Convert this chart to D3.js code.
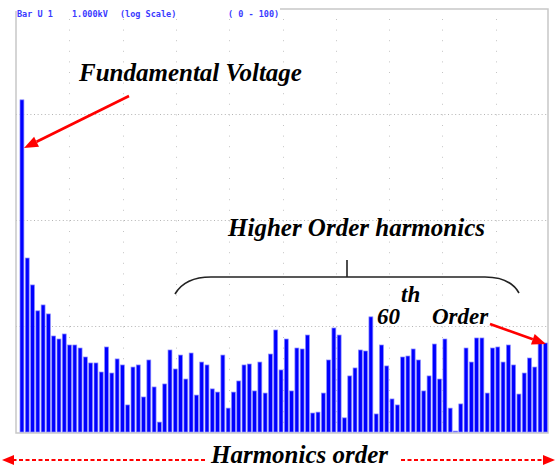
<!DOCTYPE html>
<html lang="en">
<head>
    <meta charset="UTF-8">
    <title>Harmonics spectrum</title>
    <style>
        body {
            margin: 0;
            background-color: #ffffff;
        }
        svg {
            display: block;
        }
        .note {
            font-family: "Liberation Serif", "Times New Roman", serif;
            font-weight: bold;
            font-style: italic;
            fill: #000000;
        }
        .header {
            font-family: "DejaVu Sans Mono", monospace;
            font-weight: bold;
            font-size: 8.5px;
            fill: #3a3aff;
        }
    </style>
</head>
<body>
<script src="https://d3js.org/d3.v7.min.js"></script>
<script>
    // harmonic levels (log scale, %), order 1 .. 100
    var harmonicValues = [
        13.6, 0.438, 0.244, 0.139, 0.158, 0.130, 0.0805, 0.0754, 0.0841, 0.0662,
        0.0662, 0.0620, 0.0510, 0.0448, 0.0448, 0.0368, 0.0634, 0.0360, 0.0489, 0.0429,
        0.0180, 0.0410, 0.0429, 0.0214, 0.0478, 0.0266, 0.0124, 0.0284, 0.0594, 0.0393,
        0.0532, 0.0316, 0.0556, 0.0223, 0.0457, 0.0429, 0.0255, 0.0238, 0.0532, 0.0168,
        0.0238, 0.0303, 0.0429, 0.0438, 0.0244, 0.0457, 0.0233, 0.0544, 0.0917, 0.0385,
        0.0754, 0.0244, 0.0620, 0.0607, 0.0822, 0.0151, 0.0154, 0.0233, 0.0478, 0.0958,
        0.0822, 0.0136, 0.0338, 0.0402, 0.0594, 0.0581, 0.122, 0.0148, 0.0662, 0.0420,
        0.0205, 0.0180, 0.0510, 0.0521, 0.0607, 0.0478, 0.0244, 0.0338, 0.0676, 0.0316,
        0.0754, 0.0168, 0.0102, 0.0184, 0.0620, 0.0457, 0.0771, 0.0771, 0.0233, 0.0620,
        0.0634, 0.0457, 0.0662, 0.0429, 0.0228, 0.0360, 0.0499, 0.0410, 0.0691, 0.0691
    ];
    var harmonicOrders = harmonicValues.map(function(d, i) { return i + 1; });

    var logDecades = [10, 1, 0.1];                       // dotted horizontal grid
    var orderGrid = [10, 20, 30, 40, 50, 60, 70, 80, 90]; // dotted vertical grid
    var headerLabels = [
        {text: "Bar U 1", x: 17},
        {text: "1.000kV", x: 72},
        {text: "(log Scale)", x: 120},
        {text: "(  0 - 100)", x: 228}
    ];

    var width = 557, height = 468;
    var plot = {left: 16, right: 548, top: 9, bottom: 432};

    var svg = d3.select("body").append("svg")
        .attr("width", width)
        .attr("height", height);

    var x = d3.scaleBand()
        .domain(harmonicOrders)
        .range([19.3, 548])
        .paddingInner(0.26)
        .paddingOuter(0.13);

    var xGrid = d3.scaleLinear()
        .domain([0, 100])
        .range([plot.left, plot.right + 1]);

    var y = d3.scaleLog()
        .domain([0.01, 100])
        .range([plot.bottom, 8]);

    // grid
    svg.append("g")
        .selectAll("line")
        .data(orderGrid)
        .enter().append("line")
        .attr("x1", d => Math.round(xGrid(d)) + 0.5)
        .attr("x2", d => Math.round(xGrid(d)) + 0.5)
        .attr("y1", plot.top + 10)
        .attr("y2", plot.bottom)
        .attr("stroke", "#c4c4c4")
        .attr("stroke-width", 1)
        .attr("stroke-dasharray", "1,9.6");

    svg.append("g")
        .selectAll("line")
        .data(logDecades)
        .enter().append("line")
        .attr("x1", plot.left)
        .attr("x2", plot.right)
        .attr("y1", d => Math.round(y(d)) + 0.5)
        .attr("y2", d => Math.round(y(d)) + 0.5)
        .attr("stroke", "#b4b4b4")
        .attr("stroke-width", 1)
        .attr("stroke-dasharray", "1,2.6");

    // frame
    svg.append("path")
        .attr("d", "M" + plot.left + "," + (plot.top + 2) + "V" + (plot.bottom + 1) + "H" + plot.right +
            "V" + plot.top + "H280")
        .attr("fill", "none")
        .attr("stroke", "#c8c8c8")
        .attr("stroke-width", 1.5);

    svg.append("g")
        .selectAll("text")
        .data(headerLabels)
        .enter().append("text")
        .attr("class", "header")
        .attr("x", d => d.x)
        .attr("y", 17)
        .text(d => d.text);

    // bars
    svg.append("g")
        .selectAll("rect")
        .data(harmonicValues)
        .enter().append("rect")
        .attr("x", (d, i) => x(harmonicOrders[i]))
        .attr("y", d => y(d))
        .attr("width", x.bandwidth())
        .attr("height", d => Math.max(0.8, y(0.01) - y(d)))
        .attr("fill", "#0000ff")
        .attr("stroke", "#8a8aff")
        .attr("stroke-width", 0.7);

    /* red arrow with a filled head at (x2,y2) */
    function drawArrow(x1, y1, x2, y2, dashed, headLen, headWid) {
        var a = Math.atan2(y2 - y1, x2 - x1);
        var bx = x2 - headLen * Math.cos(a), by = y2 - headLen * Math.sin(a);
        svg.append("line")
            .attr("x1", x1).attr("y1", y1)
            .attr("x2", bx).attr("y2", by)
            .attr("stroke", "#ff0000")
            .attr("stroke-width", dashed ? 2 : 2.6)
            .attr("stroke-dasharray", dashed ? "4,2.5" : null);
        var px = -Math.sin(a) * headWid / 2, py = Math.cos(a) * headWid / 2;
        svg.append("path")
            .attr("d", "M" + x2 + "," + y2 + "L" + (bx + px) + "," + (by + py) +
                "L" + (bx - px) + "," + (by - py) + "Z")
            .attr("fill", "#ff0000");
    }

    drawArrow(129, 96, 24, 148, false, 14, 11);
    drawArrow(490, 324, 546, 344, false, 14, 11);
    drawArrow(205, 460, 2, 460, true, 12, 10);
    drawArrow(401, 460, 555, 460, true, 12, 10);

    // brace over the higher order harmonics
    svg.append("path")
        .attr("d", "M175,294 Q185,277 211,277 H485 Q510,277 519,293 M347,277 V260")
        .attr("fill", "none")
        .attr("stroke", "#222222")
        .attr("stroke-width", 1.6);

    svg.append("text").attr("class", "note")
        .attr("x", 79).attr("y", 81)
        .style("font-size", "25px")
        .text("Fundamental Voltage");

    svg.append("text").attr("class", "note")
        .attr("x", 228).attr("y", 236)
        .style("font-size", "25px")
        .text("Higher Order harmonics");

    svg.append("text").attr("class", "note")
        .attr("x", 377).attr("y", 324)
        .style("font-size", "23px")
        .text("60");

    svg.append("text").attr("class", "note")
        .attr("x", 401).attr("y", 302)
        .style("font-size", "23px")
        .text("th");

    svg.append("text").attr("class", "note")
        .attr("x", 432).attr("y", 324)
        .style("font-size", "23px")
        .text("Order");

    svg.append("text").attr("class", "note")
        .attr("x", 211).attr("y", 463)
        .style("font-size", "25px")
        .text("Harmonics order");
</script>
</body>
</html>
